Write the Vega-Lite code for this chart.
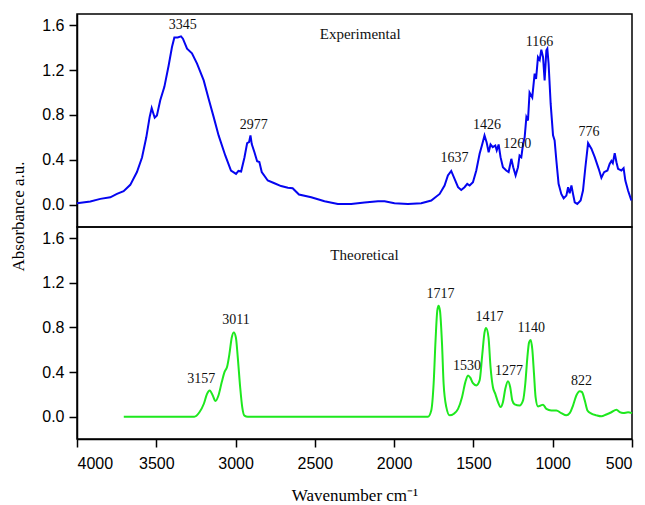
{
  "$schema": "https://vega.github.io/schema/vega-lite/v6.json",
  "background": "white",
  "padding": {"left": 8, "top": 13, "right": 5, "bottom": 0},
  "spacing": 0,
  "bounds": "flush",
  "config": {
    "view": {"stroke": "black", "strokeWidth": 1.5},
    "axis": {
      "grid": false, "ticks": true,
      "domainColor": "black", "domainWidth": 1.5,
      "tickColor": "black", "tickWidth": 1.5, "tickSize": 8,
      "labelFont": "Liberation Sans", "labelFontSize": 16, "labelColor": "black", "labelPadding": 5,
      "titleFont": "Liberation Serif", "titleFontSize": 17, "titleFontWeight": "normal", "titleColor": "black"
    },
    "text": {"font": "Liberation Serif", "fontSize": 14, "color": "#111"}
  },
  "datasets": {
    "exp": [
      {"w":4000,"a":0.012},{"w":3916,"a":0.027},{"w":3853,"a":0.051},{"w":3790,"a":0.065},{"w":3748,"a":0.095},{"w":3706,"a":0.12},{"w":3664,"a":0.176},{"w":3622,"a":0.29},{"w":3590,"a":0.42},{"w":3563,"a":0.6},{"w":3542,"a":0.78},{"w":3529,"a":0.86},{"w":3510,"a":0.775},{"w":3496,"a":0.795},{"w":3475,"a":0.93},{"w":3449,"a":1.05},{"w":3422,"a":1.24},{"w":3401,"a":1.405},{"w":3386,"a":1.49},{"w":3365,"a":1.49},{"w":3344,"a":1.5},{"w":3332,"a":1.48},{"w":3306,"a":1.39},{"w":3275,"a":1.35},{"w":3243,"a":1.257},{"w":3201,"a":1.108},{"w":3170,"a":0.945},{"w":3138,"a":0.78},{"w":3107,"a":0.617},{"w":3065,"a":0.438},{"w":3029,"a":0.304},{"w":2997,"a":0.274},{"w":2982,"a":0.3},{"w":2965,"a":0.295},{"w":2944,"a":0.42},{"w":2927,"a":0.548},{"w":2915,"a":0.557},{"w":2906,"a":0.617},{"w":2898,"a":0.54},{"w":2881,"a":0.467},{"w":2864,"a":0.387},{"w":2850,"a":0.38},{"w":2835,"a":0.29},{"w":2797,"a":0.215},{"w":2755,"a":0.19},{"w":2713,"a":0.165},{"w":2670,"a":0.15},{"w":2640,"a":0.145},{"w":2600,"a":0.09},{"w":2523,"a":0.065},{"w":2439,"a":0.03},{"w":2355,"a":0.006},{"w":2271,"a":0.006},{"w":2187,"a":0.018},{"w":2102,"a":0.03},{"w":2060,"a":0.03},{"w":1998,"a":0.012},{"w":1913,"a":0.006},{"w":1829,"a":0.012},{"w":1766,"a":0.036},{"w":1713,"a":0.095},{"w":1682,"a":0.17},{"w":1661,"a":0.26},{"w":1640,"a":0.3},{"w":1619,"a":0.23},{"w":1597,"a":0.155},{"w":1577,"a":0.13},{"w":1556,"a":0.155},{"w":1539,"a":0.185},{"w":1524,"a":0.17},{"w":1503,"a":0.2},{"w":1482,"a":0.304},{"w":1461,"a":0.453},{"w":1444,"a":0.54},{"w":1430,"a":0.617},{"w":1417,"a":0.557},{"w":1404,"a":0.467},{"w":1392,"a":0.536},{"w":1378,"a":0.512},{"w":1362,"a":0.527},{"w":1353,"a":0.483},{"w":1341,"a":0.536},{"w":1329,"a":0.423},{"w":1314,"a":0.333},{"w":1293,"a":0.304},{"w":1278,"a":0.29},{"w":1261,"a":0.408},{"w":1249,"a":0.333},{"w":1234,"a":0.26},{"w":1219,"a":0.333},{"w":1209,"a":0.438},{"w":1198,"a":0.423},{"w":1187,"a":0.54},{"w":1177,"a":0.6},{"w":1166,"a":0.78},{"w":1156,"a":0.75},{"w":1146,"a":1.0},{"w":1129,"a":0.956},{"w":1114,"a":1.168},{"w":1105,"a":1.12},{"w":1093,"a":1.316},{"w":1082,"a":1.29},{"w":1072,"a":1.382},{"w":1061,"a":1.316},{"w":1051,"a":1.108},{"w":1040,"a":1.376},{"w":1034,"a":1.39},{"w":1026,"a":1.257},{"w":1013,"a":0.9},{"w":998,"a":0.617},{"w":988,"a":0.572},{"w":977,"a":0.393},{"w":963,"a":0.185},{"w":946,"a":0.095},{"w":931,"a":0.056},{"w":914,"a":0.08},{"w":903,"a":0.155},{"w":893,"a":0.1},{"w":882,"a":0.17},{"w":872,"a":0.095},{"w":861,"a":0.02},{"w":845,"a":0.006},{"w":824,"a":0.036},{"w":809,"a":0.125},{"w":794,"a":0.333},{"w":777,"a":0.548},{"w":756,"a":0.498},{"w":735,"a":0.423},{"w":710,"a":0.319},{"w":693,"a":0.239},{"w":676,"a":0.289},{"w":655,"a":0.304},{"w":641,"a":0.363},{"w":630,"a":0.39},{"w":621,"a":0.37},{"w":609,"a":0.458},{"w":598,"a":0.378},{"w":588,"a":0.319},{"w":567,"a":0.304},{"w":553,"a":0.325},{"w":542,"a":0.214},{"w":525,"a":0.125},{"w":504,"a":0.036}
    ],
    "theo": [
      {"w":3705,"a":0},{"w":3260,"a":0},{"w":3228,"a":0.04},{"w":3200,"a":0.116},{"w":3180,"a":0.205},{"w":3163,"a":0.235},{"w":3144,"a":0.19},{"w":3127,"a":0.14},{"w":3108,"a":0.19},{"w":3087,"a":0.31},{"w":3070,"a":0.4},{"w":3053,"a":0.45},{"w":3039,"a":0.56},{"w":3024,"a":0.71},{"w":3011,"a":0.755},{"w":2998,"a":0.71},{"w":2986,"a":0.53},{"w":2971,"a":0.264},{"w":2958,"a":0.086},{"w":2944,"a":0.01},{"w":2923,"a":0},{"w":1787,"a":0},{"w":1766,"a":0.056},{"w":1751,"a":0.295},{"w":1739,"a":0.68},{"w":1728,"a":0.95},{"w":1720,"a":0.994},{"w":1711,"a":0.95},{"w":1698,"a":0.65},{"w":1688,"a":0.295},{"w":1671,"a":0.086},{"w":1650,"a":0.012},{"w":1623,"a":0.027},{"w":1597,"a":0.07},{"w":1572,"a":0.175},{"w":1551,"a":0.31},{"w":1534,"a":0.37},{"w":1520,"a":0.35},{"w":1503,"a":0.3},{"w":1482,"a":0.28},{"w":1461,"a":0.325},{"w":1444,"a":0.56},{"w":1430,"a":0.755},{"w":1420,"a":0.795},{"w":1405,"a":0.71},{"w":1392,"a":0.443},{"w":1377,"a":0.264},{"w":1362,"a":0.205},{"w":1345,"a":0.13},{"w":1329,"a":0.086},{"w":1314,"a":0.13},{"w":1299,"a":0.25},{"w":1282,"a":0.318},{"w":1268,"a":0.264},{"w":1255,"a":0.146},{"w":1240,"a":0.11},{"w":1209,"a":0.1},{"w":1187,"a":0.146},{"w":1173,"a":0.295},{"w":1160,"a":0.53},{"w":1149,"a":0.666},{"w":1139,"a":0.688},{"w":1129,"a":0.607},{"w":1118,"a":0.384},{"w":1108,"a":0.175},{"w":1093,"a":0.092},{"w":1076,"a":0.1},{"w":1061,"a":0.107},{"w":1040,"a":0.07},{"w":1009,"a":0.056},{"w":977,"a":0.056},{"w":946,"a":0.032},{"w":914,"a":0.012},{"w":893,"a":0.032},{"w":872,"a":0.1},{"w":851,"a":0.19},{"w":830,"a":0.229},{"w":815,"a":0.22},{"w":798,"a":0.146},{"w":781,"a":0.056},{"w":756,"a":0.027},{"w":725,"a":0.012},{"w":693,"a":0.003},{"w":662,"a":0.02},{"w":630,"a":0.04},{"w":598,"a":0.062},{"w":577,"a":0.04},{"w":556,"a":0.032},{"w":525,"a":0.04},{"w":500,"a":0.032}
    ],
    "expLabels": [
      {"w":3333,"a":1.6,"t":"3345","s":14},{"w":2885,"a":0.706,"t":"2977","s":14},{"w":2214,"a":1.52,"t":"Experimental","s":15},{"w":1619,"a":0.417,"t":"1637","s":14},{"w":1415,"a":0.706,"t":"1426","s":14},{"w":1223,"a":0.536,"t":"1260","s":14},{"w":1083,"a":1.45,"t":"1166","s":14},{"w":771,"a":0.646,"t":"776","s":14}
    ],
    "theoLabels": [
      {"w":2187,"a":1.449,"t":"Theoretical","s":15},{"w":3217,"a":0.339,"t":"3157","s":14},{"w":2997,"a":0.866,"t":"3011","s":14},{"w":1707,"a":1.098,"t":"1717","s":14},{"w":1541,"a":0.458,"t":"1530","s":14},{"w":1398,"a":0.889,"t":"1417","s":14},{"w":1276,"a":0.407,"t":"1277","s":14},{"w":1135,"a":0.795,"t":"1140","s":14},{"w":819,"a":0.318,"t":"822","s":14}
    ]
  },
  "vconcat": [
    {
      "width": 555,
      "height": 213,
      "layer": [
        {
          "data": {"name": "exp"},
          "mark": {"type": "line", "color": "#0505f0", "strokeWidth": 2},
          "encoding": {
            "x": {"field": "w", "type": "quantitative", "scale": {"domain": [500, 4000], "reverse": true, "nice": false, "zero": false}, "axis": null},
            "y": {"field": "a", "type": "quantitative", "scale": {"domain": [-0.2, 1.7], "nice": false, "zero": false},
              "axis": {"values": [0, 0.4, 0.8, 1.2, 1.6], "format": ".1f", "title": "Absorbance a.u.", "titleAngle": -90, "titleAlign": "center", "titleBaseline": "middle", "titleX": -59, "titleY": 202}}
          }
        },
        {
          "data": {"name": "expLabels"},
          "mark": {"type": "text", "align": "center", "baseline": "middle"},
          "encoding": {
            "x": {"field": "w", "type": "quantitative"},
            "y": {"field": "a", "type": "quantitative"},
            "text": {"field": "t"},
            "size": {"field": "s", "type": "quantitative", "scale": null}
          }
        }
      ]
    },
    {
      "width": 555,
      "height": 212,
      "layer": [
        {
          "data": {"name": "theo"},
          "mark": {"type": "line", "color": "#1ee81e", "strokeWidth": 2, "interpolate": "monotone"},
          "encoding": {
            "x": {"field": "w", "type": "quantitative", "scale": {"domain": [500, 4000], "reverse": true, "nice": false, "zero": false},
              "axis": {"values": [4000, 3500, 3000, 2500, 2000, 1500, 1000, 500], "format": "d", "labelPadding": 8, "title": "Wavenumber cm⁻¹", "titlePadding": 16}},
            "y": {"field": "a", "type": "quantitative", "scale": {"domain": [-0.2, 1.7], "nice": false, "zero": false},
              "axis": {"values": [0, 0.4, 0.8, 1.2, 1.6], "format": ".1f", "title": null}}
          }
        },
        {
          "data": {"name": "theoLabels"},
          "mark": {"type": "text", "align": "center", "baseline": "middle"},
          "encoding": {
            "x": {"field": "w", "type": "quantitative"},
            "y": {"field": "a", "type": "quantitative"},
            "text": {"field": "t"},
            "size": {"field": "s", "type": "quantitative", "scale": null}
          }
        }
      ]
    }
  ]
}
